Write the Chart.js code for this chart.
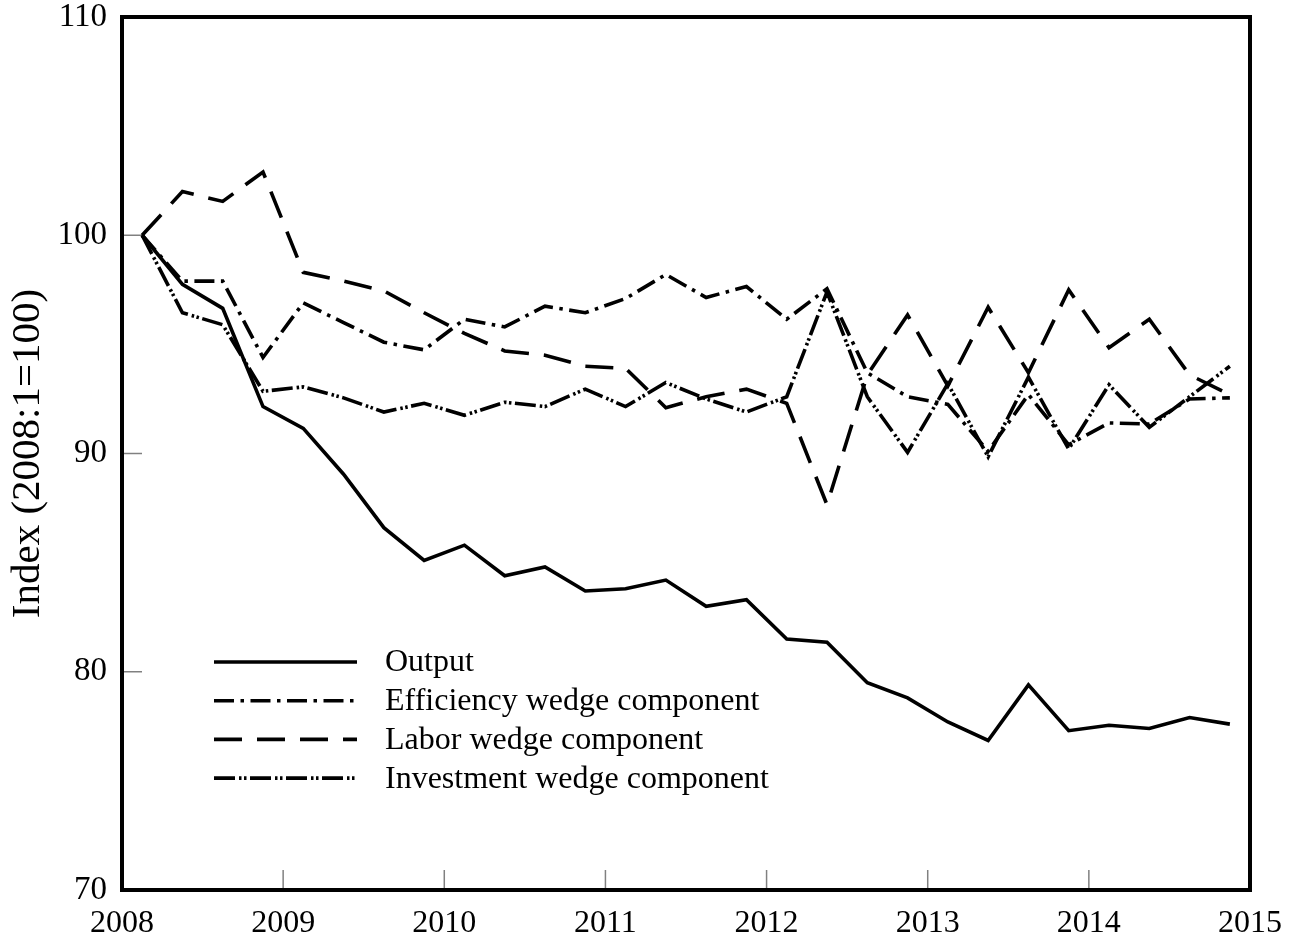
<!DOCTYPE html>
<html><head><meta charset="utf-8">
<script src="https://cdn.jsdelivr.net/npm/chart.js@4.4.0/dist/chart.umd.min.js"></script>
<style>html,body{margin:0;padding:0;background:#fff;overflow:hidden}#wrap{width:1297px;height:942px;position:relative}</style>
</head><body><div id="wrap"><canvas id="c" width="1297" height="942"></canvas></div>
<script>
const quarters = ["2008:1","2008:2","2008:3","2008:4","2009:1","2009:2","2009:3","2009:4",
  "2010:1","2010:2","2010:3","2010:4","2011:1","2011:2","2011:3","2011:4",
  "2012:1","2012:2","2012:3","2012:4","2013:1","2013:2","2013:3","2013:4",
  "2014:1","2014:2","2014:3","2014:4"];
const output = [100, 97.75, 96.65, 92.15, 91.15, 89.05, 86.6, 85.1, 85.8, 84.4, 84.8, 83.7, 83.8, 84.2,
  83.0, 83.3, 81.5, 81.35, 79.5, 78.8, 77.7, 76.85, 79.4, 77.3, 77.55, 77.4, 77.9, 77.6];
const efficiency = [100, 97.9, 97.9, 94.4, 96.9, 96.0, 95.1, 94.75, 96.15, 95.8, 96.75, 96.45, 97.1, 98.2,
  97.15, 97.65, 96.15, 97.55, 93.7, 92.6, 92.25, 90.1, 92.7, 90.4, 91.4, 91.35, 92.5, 92.55];
const labor = [100, 102.0, 101.55, 102.9, 98.3, 97.9, 97.45, 96.45, 95.5, 94.7, 94.5, 94.0, 93.9, 92.1,
  92.6, 92.95, 92.3, 87.65, 93.6, 96.35, 93.1, 96.7, 93.7, 97.5, 94.85, 96.15, 93.6, 92.7];
const investment = [100, 96.45, 95.9, 92.85, 93.05, 92.55, 91.9, 92.3, 91.75, 92.35, 92.15, 92.95, 92.15, 93.25,
  92.5, 91.9, 92.6, 97.4, 92.6, 90.05, 93.2, 89.85, 93.5, 90.2, 93.15, 91.2, 92.6, 94.0];
const yearTicks = [2008, 2009, 2010, 2011, 2012, 2013, 2014, 2015];
const yTicks = [70, 80, 90, 100, 110];
const seriesNames = ["Output", "Efficiency wedge component", "Labor wedge component", "Investment wedge component"];

// quarter "YYYY:q" -> mid-quarter position on the year axis
function qpos(s){ const [y,q] = s.split(':').map(Number); return y + (q - 0.5) / 4; }
function pts(arr){ return arr.map((v,i)=>({x: qpos(quarters[i]), y: v})); }

const FONT = "'Liberation Serif','DejaVu Serif',serif";
const dashes = [[], [20,6.5,3.5,6.5], [28,15], [21,4,2.5,2.5,2.5,3.5]];
const allSeries = [output, efficiency, labor, investment];

const datasets = allSeries.map((arr,i)=>({
  label: seriesNames[i], data: pts(arr), borderColor:'#000', borderWidth:3.6,
  borderDash: dashes[i], borderCapStyle:'butt', borderJoinStyle:'miter', pointRadius:0, tension:0, fill:false
}));

const framePlugin = {
  id:'frame',
  beforeDatasetsDraw(chart){
    const {ctx, chartArea:a, scales:{x,y}} = chart;
    ctx.save(); ctx.strokeStyle='#808080'; ctx.lineWidth=1.5;
    yearTicks.slice(1,-1).forEach(v=>{ const px=x.getPixelForValue(v); ctx.beginPath(); ctx.moveTo(px,a.bottom); ctx.lineTo(px,a.bottom-20); ctx.stroke(); });
    yTicks.slice(1,-1).forEach(v=>{ const py=y.getPixelForValue(v); ctx.beginPath(); ctx.moveTo(a.left,py); ctx.lineTo(a.left+20,py); ctx.stroke(); });
    ctx.restore();
  },
  afterDatasetsDraw(chart){
    const {ctx, chartArea:a} = chart;
    ctx.save(); ctx.strokeStyle='#000'; ctx.lineWidth=4; ctx.setLineDash([]);
    ctx.strokeRect(a.left, a.top, a.right-a.left, a.bottom-a.top);
    ctx.restore();
  },
  afterDraw(chart){
    const {ctx} = chart;
    ctx.save();
    chart.data.datasets.forEach((ds,i)=>{
      const yy = 662 + i*38.7;
      ctx.strokeStyle='#000'; ctx.lineWidth=3.6; ctx.lineCap='butt';
      ctx.setLineDash(ds.borderDash);
      ctx.beginPath(); ctx.moveTo(214,yy); ctx.lineTo(357,yy); ctx.stroke();
      ctx.setLineDash([]);
      ctx.fillStyle='#000'; ctx.font='32px '+FONT; ctx.textBaseline='middle'; ctx.textAlign='left';
      ctx.fillText(ds.label, 385, yy + 1);
    });
    ctx.restore();
  }
};

new Chart(document.getElementById('c'), {
  type:'line',
  data:{ datasets },
  options:{
    responsive:false, animation:false, devicePixelRatio:1,
    layout:{ padding:{ top:17, right:47, bottom:0, left:0 } },
    plugins:{ legend:{display:false}, tooltip:{enabled:false} },
    scales:{
      x:{ type:'linear', min:2008, max:2015,
        afterBuildTicks(s){ s.ticks = yearTicks.map(v=>({value:v})); },
        afterFit(s){ s.height = 52; s.paddingLeft = 0; s.paddingRight = 0; },
        ticks:{ callback:v=>String(v), font:{family:FONT, size:32}, color:'#000', padding:14, maxRotation:0, autoSkip:false },
        grid:{ drawOnChartArea:false, drawTicks:false }, border:{display:false} },
      y:{ type:'linear', min:70, max:110,
        afterBuildTicks(s){ s.ticks = yTicks.map(v=>({value:v})); },
        afterFit(s){ s.width = 122; s.paddingTop = 0; s.paddingBottom = 0; },
        ticks:{ font:{family:FONT, size:33}, color:'#000', padding:15 },
        title:{ display:true, text:'Index (2008:1=100)', font:{family:FONT, size:41}, color:'#000', padding:{top:4,bottom:0} },
        grid:{ drawOnChartArea:false, drawTicks:false }, border:{display:false} }
    }
  },
  plugins:[framePlugin]
});
</script></body></html>
